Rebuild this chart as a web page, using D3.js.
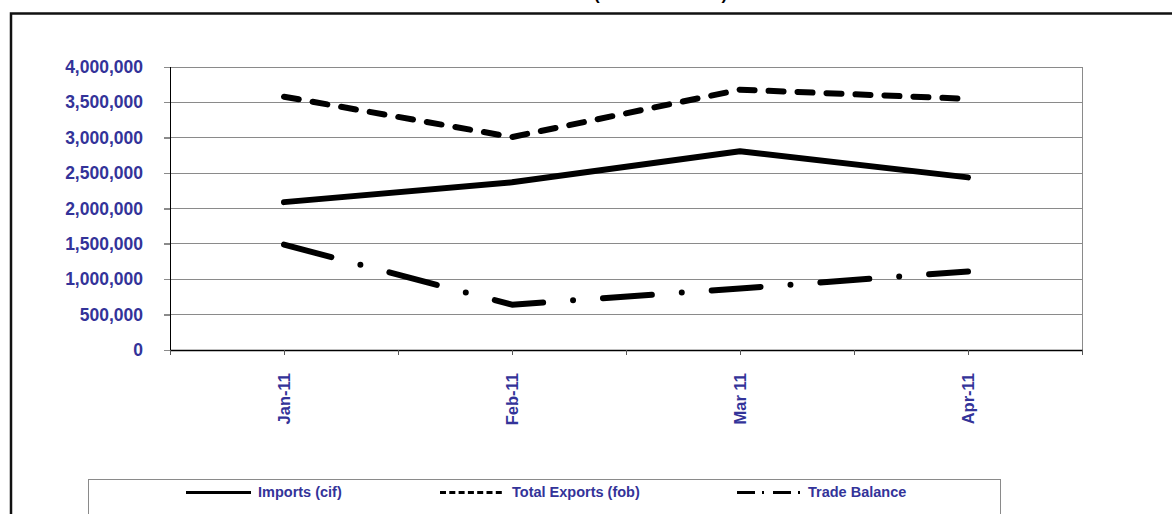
<!DOCTYPE html>
<html>
<head>
<meta charset="utf-8">
<script src="https://cdn.jsdelivr.net/npm/d3@7"></script>
<style>
  html, body { margin: 0; padding: 0; background: #fff; }
  svg { display: block; }
  text { font-family: "Liberation Sans", Arial, sans-serif; font-weight: bold; }
</style>
</head>
<body>
<svg id="chart" width="1172" height="514"></svg>
<script>
// ---- data ----
const categories = ["Jan-11", "Feb-11", "Mar 11", "Apr-11"];
const imports = [2090000, 2370000, 2810000, 2440000];
const totalExports = [3580000, 3010000, 3680000, 3550000];
const tradeBalance = [1490000, 640000, 870000, 1110000];
const yTicks = [0, 500000, 1000000, 1500000, 2000000, 2500000, 3000000, 3500000, 4000000];
const seriesNames = ["Imports (cif)", "Total Exports (fob)", "Trade Balance"];
const titlePrefix = "Trade Balance ";
const titleUnit = "(Rs. Thousands)";

const labelColor = "#333399";
const svg = d3.select("#chart");

// outer chart frame
svg.append("rect").attr("x", 11).attr("y", 13.5).attr("width", 1200).attr("height", 600)
  .attr("fill", "none").attr("stroke", "#111").attr("stroke-width", 2.5);

// title (mostly clipped at top, as in the reference)
svg.append("text").attr("x", 594).attr("y", -0.5).attr("text-anchor", "end")
  .attr("font-size", 17).attr("fill", "#000").text(titlePrefix);
svg.append("text").attr("x", 594).attr("y", -0.5).attr("text-anchor", "start")
  .attr("font-size", 17).attr("fill", "#000").text(titleUnit);

// plot area
const pLeft = 170, pRight = 1082, pTop = 67, pBottom = 350;

const x = d3.scalePoint().domain(categories).range([pLeft, pRight]).padding(0.5);
const xTickScale = d3.scaleLinear().domain([0, categories.length]).range([pLeft, pRight]);
const y = d3.scaleLinear().domain([0, 4000000]).range([pBottom, pTop]);

// gridlines
svg.append("g").selectAll("line").data(yTicks.filter(d => d > 0)).join("line")
  .attr("x1", pLeft - 6).attr("x2", pRight)
  .attr("y1", d => y(d)).attr("y2", d => y(d))
  .attr("stroke", "#8a8a8a").attr("stroke-width", 1).attr("shape-rendering", "crispEdges");

// right border of plot area
svg.append("line").attr("x1", pRight).attr("x2", pRight).attr("y1", pTop).attr("y2", pBottom)
  .attr("stroke", "#8a8a8a").attr("stroke-width", 1).attr("shape-rendering", "crispEdges");

// y axis
const yAxis = svg.append("g").attr("transform", `translate(${pLeft},0)`)
  .call(d3.axisLeft(y).tickValues(yTicks).tickSize(6).tickPadding(21).tickFormat(d3.format(",")));
yAxis.select(".domain").attr("stroke", "#000").attr("shape-rendering", "crispEdges");
yAxis.selectAll(".tick line").attr("stroke", "#8a8a8a").attr("shape-rendering", "crispEdges");
yAxis.selectAll(".tick text").attr("font-size", 17.5).attr("fill", labelColor)
  .attr("font-family", "'Liberation Sans', Arial, sans-serif").attr("font-weight", "bold");

// x axis tick marks (boundaries and centres)
const xTickVals = d3.range(0, categories.length + 0.01, 0.5);
const xAxis = svg.append("g").attr("transform", `translate(0,${pBottom})`)
  .call(d3.axisBottom(xTickScale).tickValues(xTickVals).tickSize(5).tickSizeOuter(0).tickFormat(""));
xAxis.select(".domain").attr("stroke", "#000").attr("stroke-width", 1.5);
xAxis.selectAll(".tick line").attr("stroke", "#555").attr("shape-rendering", "crispEdges");

// x labels (rotated)
svg.append("g").selectAll("text").data(categories).join("text")
  .attr("transform", d => `translate(${x(d)},373) rotate(-90)`)
  .attr("text-anchor", "end").attr("dy", "0.35em")
  .attr("font-size", 16.5).attr("fill", labelColor).text(d => d);

// series lines
const line = d3.line().x((d, i) => x(categories[i])).y(d => y(d));
const styles = [
  { data: imports, dash: null },
  { data: totalExports, dash: "15,14" },
  { data: tradeBalance, dash: "49,30,0,30" }
];
styles.forEach(s => {
  svg.append("path").datum(s.data).attr("d", line)
    .attr("fill", "none").attr("stroke", "#000").attr("stroke-width", 6)
    .attr("stroke-linecap", "round").attr("stroke-linejoin", "round")
    .attr("stroke-dasharray", s.dash);
});

// legend
svg.append("rect").attr("x", 88.5).attr("y", 479.5).attr("width", 912).attr("height", 60)
  .attr("fill", "#fff").attr("stroke", "#8a8a8a").attr("stroke-width", 1);

const legendItems = [
  { name: seriesNames[0], x1: 186, x2: 251, tx: 258, dash: null },
  { name: seriesNames[1], x1: 440, x2: 505, tx: 512, dash: "6,3.3" },
  { name: seriesNames[2], x1: 737, x2: 802, tx: 808, dash: "18,7,2,9" }
];
const lg = svg.append("g");
legendItems.forEach(it => {
  lg.append("line").attr("x1", it.x1).attr("x2", it.x2).attr("y1", 492.5).attr("y2", 492.5)
    .attr("stroke", "#000").attr("stroke-width", 3).attr("stroke-dasharray", it.dash);
  lg.append("text").attr("x", it.tx).attr("y", 497).attr("font-size", 14.5)
    .attr("fill", labelColor).text(it.name);
});
</script>
</body>
</html>
